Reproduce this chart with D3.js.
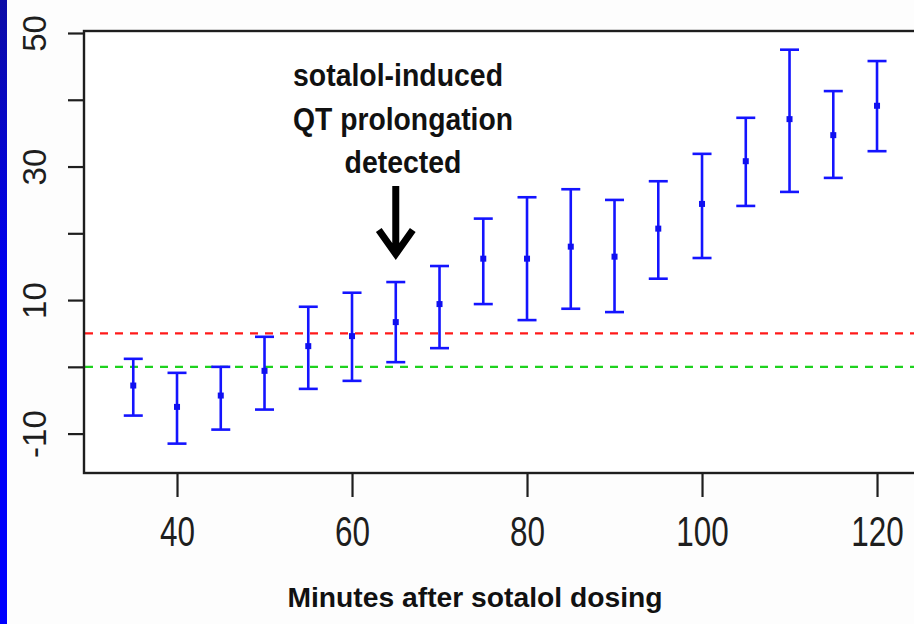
<!DOCTYPE html>
<html>
<head>
<meta charset="utf-8">
<script src="https://cdn.jsdelivr.net/npm/d3@7"></script>
<style>
  body { margin: 0; background: #fdfdfd; }
  svg { display: block; }
</style>
</head>
<body>
<svg width="914" height="624"></svg>
<script>
// minutos despues de la dosis y el QT (media con limites)
var minutes = [35, 40, 45, 50, 55, 60, 65, 70, 75, 80, 85, 90, 95, 100, 105, 110, 115, 120];
var mean  = [-2.8, -6.0, -4.3, -0.6, 3.1, 4.6, 6.7, 9.4, 16.2, 16.2, 18.0, 16.5, 20.7, 24.4, 30.8, 37.1, 34.7, 39.1];
var lower = [-7.3, -11.5, -9.4, -6.4, -3.3, -2.1, 0.7, 2.8, 9.4, 7.0, 8.7, 8.2, 13.2, 16.3, 24.1, 26.2, 28.3, 32.3];
var upper = [1.2, -0.9, 0.0, 4.5, 9.0, 11.1, 12.7, 15.1, 22.2, 25.4, 26.6, 25.0, 27.8, 31.9, 37.3, 47.5, 41.3, 45.8];
var xTicks = [40, 60, 80, 100, 120];
var yTicks = [-10, 0, 10, 20, 30, 40, 50];
var yLabels = [-10, 10, 30, 50];
var refLines = [{value: 5, color: "#ff1a1a"}, {value: 0, color: "#1ed21e"}];
var note = ["sotalol-induced", "QT prolongation", "detected"];
var noteWidths = [210, 220, 117];
var xTitle = "Minutes after sotalol dosing";

function dibujar() {
  var svg = d3.select("svg");

  // franja azul a la izquierda
  var grad = svg.append("defs").append("linearGradient")
    .attr("id", "franja").attr("x1", 0).attr("y1", 0).attr("x2", 0).attr("y2", 1);
  grad.append("stop").attr("offset", "0%").attr("stop-color", "#0c0ca6");
  grad.append("stop").attr("offset", "45%").attr("stop-color", "#0000f0");
  grad.append("stop").attr("offset", "100%").attr("stop-color", "#0000ff");
  svg.append("rect").attr("x", 0).attr("y", 0).attr("width", 7).attr("height", 624)
    .attr("fill", "url(#franja)");

  var left = 84, top = 31, right = 922, bottom = 473;

  var x = d3.scaleLinear().domain([29.37, 125.14]).range([left, right]);
  var y = d3.scaleLinear().domain([-15.9, 50.3]).range([bottom, top]);

  svg.append("rect")
    .attr("x", left).attr("y", top)
    .attr("width", right - left).attr("height", bottom - top)
    .attr("fill", "#ffffff");

  // lineas de referencia
  svg.selectAll(".ref")
    .data(refLines)
    .enter().append("line")
    .attr("class", "ref")
    .attr("x1", left + 1).attr("x2", right)
    .attr("y1", function(d) { return y(d.value); })
    .attr("y2", function(d) { return y(d.value); })
    .attr("stroke", function(d) { return d.color; })
    .attr("stroke-width", 2.2)
    .attr("stroke-dasharray", "8,7");

  var datos = minutes.map(function(m, i) {
    return {min: m, mean: mean[i], lo: lower[i], hi: upper[i]};
  });

  var bar = svg.selectAll(".bar")
    .data(datos)
    .enter().append("g")
    .attr("class", "bar")
    .attr("stroke", "#1414ff")
    .attr("stroke-width", 2.6);

  bar.append("line")
    .attr("x1", function(d) { return x(d.min); })
    .attr("x2", function(d) { return x(d.min); })
    .attr("y1", function(d) { return y(d.lo); })
    .attr("y2", function(d) { return y(d.hi); });

  bar.append("line")
    .attr("x1", function(d) { return x(d.min) - 9.5; })
    .attr("x2", function(d) { return x(d.min) + 9.5; })
    .attr("y1", function(d) { return y(d.hi); })
    .attr("y2", function(d) { return y(d.hi); });

  bar.append("line")
    .attr("x1", function(d) { return x(d.min) - 9.5; })
    .attr("x2", function(d) { return x(d.min) + 9.5; })
    .attr("y1", function(d) { return y(d.lo); })
    .attr("y2", function(d) { return y(d.lo); });

  bar.append("rect")
    .attr("x", function(d) { return x(d.min) - 3; })
    .attr("y", function(d) { return y(d.mean) - 3; })
    .attr("width", 6).attr("height", 6)
    .attr("stroke", "none")
    .attr("fill", "#1010f0");

  // caja del grafico
  svg.append("rect")
    .attr("x", left).attr("y", top)
    .attr("width", right - left).attr("height", bottom - top)
    .attr("fill", "none")
    .attr("stroke", "#1e1e1e")
    .attr("stroke-width", 2.4);

  var gx = svg.append("g")
    .attr("transform", "translate(0," + bottom + ")")
    .call(d3.axisBottom(x).tickValues(xTicks).tickSize(24).tickPadding(19).tickSizeOuter(0));
  gx.select(".domain").remove();
  gx.selectAll(".tick line").attr("stroke", "#1e1e1e").attr("stroke-width", 2.2);
  gx.selectAll(".tick text")
    .attr("fill", "#1e1e1e")
    .attr("textLength", function(d) { return String(d).length * 17.5; })
    .attr("lengthAdjust", "spacingAndGlyphs")
    .style("font-family", "'Liberation Sans', Arial, sans-serif")
    .style("font-size", "42px")
    .attr("dy", "0.71em");

  var gy = svg.append("g")
    .attr("transform", "translate(" + left + ",0)")
    .call(d3.axisLeft(y).tickValues(yTicks).tickSize(16).tickSizeOuter(0)
      .tickFormat(function(d) { return yLabels.indexOf(d) >= 0 ? d : ""; }));
  gy.select(".domain").remove();
  gy.selectAll(".tick line").attr("stroke", "#1e1e1e").attr("stroke-width", 2.2);
  gy.selectAll(".tick text")
    .attr("x", null).attr("dy", null)
    .attr("text-anchor", "middle")
    .attr("transform", "translate(-38,0) rotate(-90)")
    .attr("fill", "#1e1e1e")
    .style("font-family", "'Liberation Sans', Arial, sans-serif")
    .style("font-size", "33px");

  // titulo del eje x
  svg.append("text")
    .attr("x", 475).attr("y", 607)
    .attr("text-anchor", "middle")
    .attr("textLength", 375)
    .attr("lengthAdjust", "spacingAndGlyphs")
    .style("font-family", "'Liberation Sans', Arial, sans-serif")
    .style("font-weight", "bold")
    .style("font-size", "27px")
    .attr("fill", "#111")
    .text(xTitle);

  // anotacion con flecha
  svg.selectAll(".nota")
    .data(note)
    .enter().append("text")
    .attr("class", "nota")
    .attr("x", function(d, i) { return i === 0 ? 398 : 403; })
    .attr("y", function(d, i) { return 86 + i * 43.5; })
    .attr("text-anchor", "middle")
    .attr("textLength", function(d, i) { return noteWidths[i]; })
    .attr("lengthAdjust", "spacingAndGlyphs")
    .style("font-family", "'Liberation Sans', Arial, sans-serif")
    .style("font-weight", "bold")
    .style("font-size", "32px")
    .attr("fill", "#111")
    .text(function(d) { return d; });

  var ax = x(65);
  var flecha = d3.path();
  flecha.moveTo(ax, 186);
  flecha.lineTo(ax, 254);
  flecha.moveTo(ax - 17, 230);
  flecha.lineTo(ax, 254);
  flecha.lineTo(ax + 17, 230);
  svg.append("path")
    .attr("d", flecha.toString())
    .attr("fill", "none")
    .attr("stroke", "#000")
    .attr("stroke-width", 7)
    .attr("stroke-linejoin", "miter");
}

dibujar();
</script>
</body>
</html>
